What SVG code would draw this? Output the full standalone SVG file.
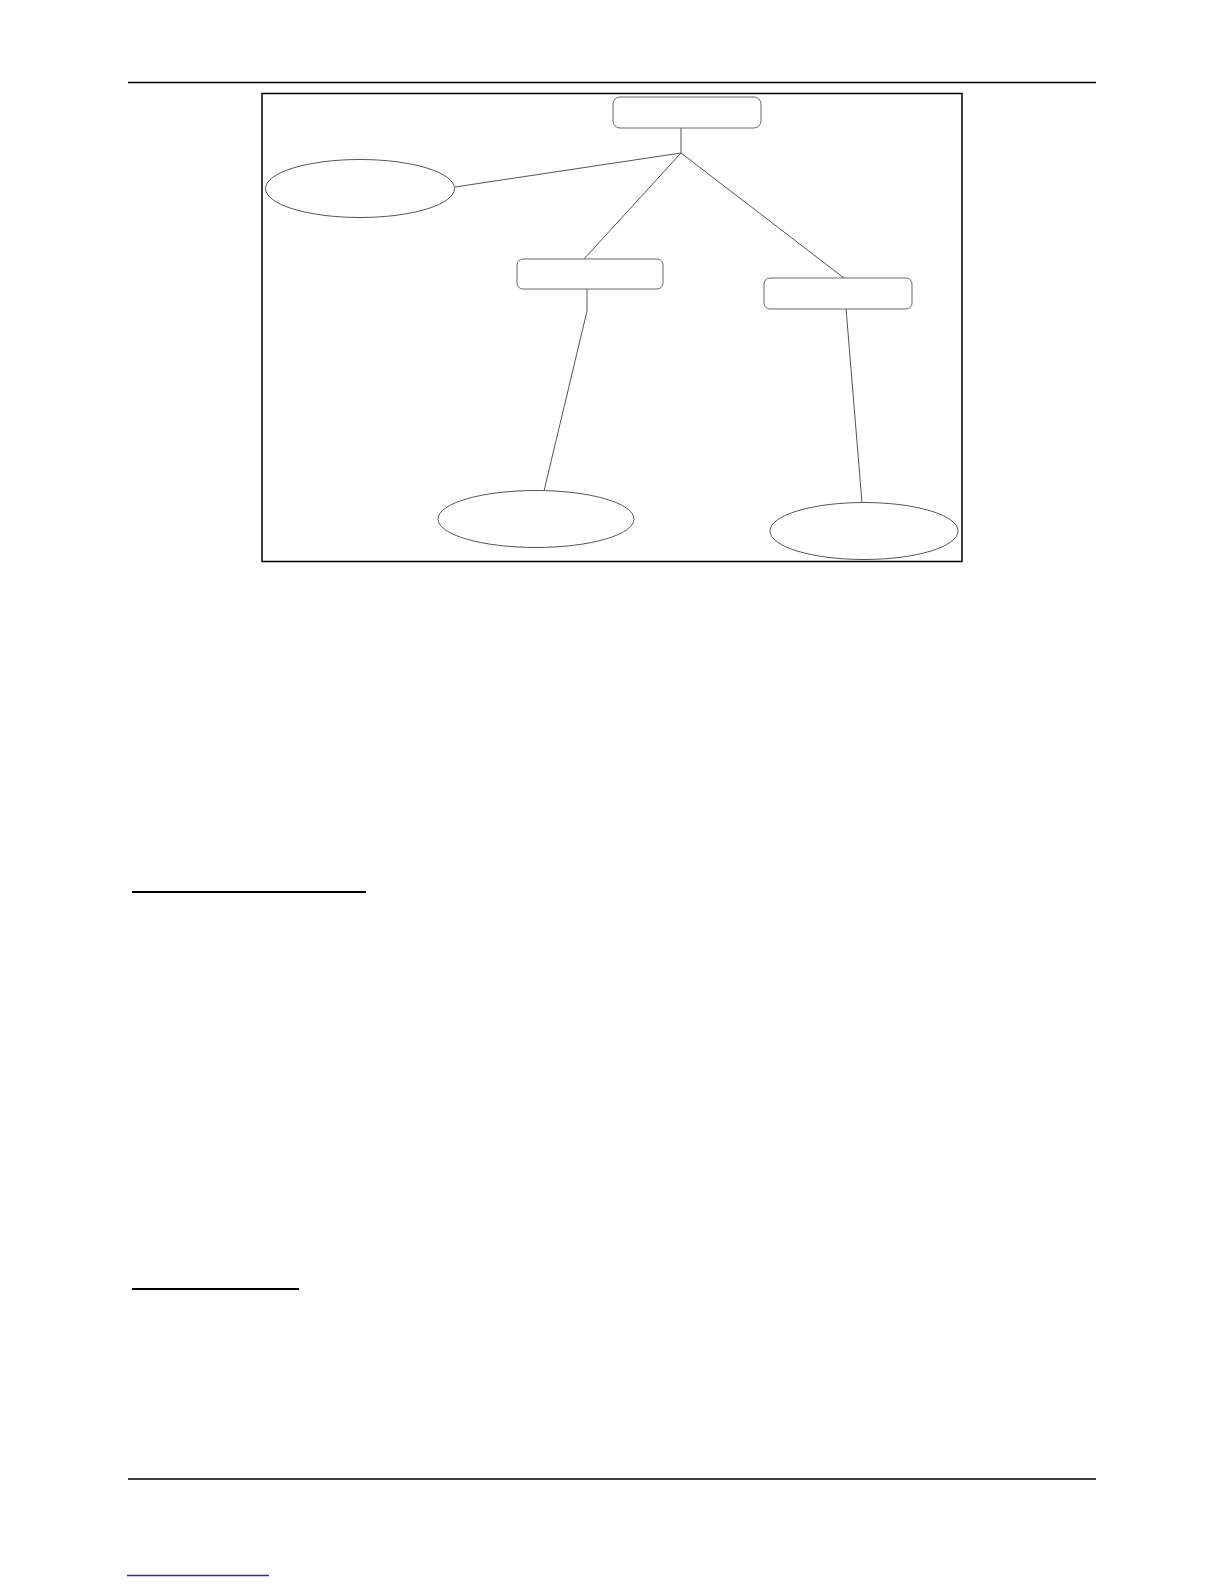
<svg xmlns="http://www.w3.org/2000/svg" width="1224" height="1584" viewBox="0 0 1224 1584">
<style>
.rule{stroke:#000;stroke-width:1.3;fill:none}
.ul{stroke:#000;stroke-width:2;fill:none}
.frame{stroke:#000;stroke-width:1.5;fill:none}
.box{fill:#fff;stroke:#6a6a6a;stroke-width:1}
.ell{fill:#fff;stroke:#555;stroke-width:1}
.conn{stroke:#555;stroke-width:1;fill:none}
</style>
<rect width="1224" height="1584" fill="#fff"/>
<g id="page">
<line class="rule" x1="128" y1="82.5" x2="1096" y2="82.5"/>
<line class="rule" x1="128" y1="1479" x2="1096" y2="1479"/>
<line class="ul" x1="132" y1="892" x2="366" y2="892"/>
<line class="ul" x1="132" y1="1289" x2="299" y2="1289"/>
<line x1="127" y1="1575.5" x2="269" y2="1575.5" stroke="#2a2aa6" stroke-width="1.3"/>
<rect class="frame" x="262" y="93.5" width="700" height="468"/>
</g>
<g id="connectors">
<polyline class="conn" points="681,128 681,153"/>
<line class="conn" x1="681" y1="153" x2="455" y2="187"/>
<line class="conn" x1="681" y1="153" x2="584" y2="259"/>
<line class="conn" x1="681" y1="153" x2="844" y2="278"/>
<polyline class="conn" points="587,289 587,311 544,491"/>
<line class="conn" x1="846" y1="308" x2="862" y2="503"/>
</g>
<g id="node-top"><rect class="box" x="613" y="97" width="148" height="31" rx="7"/></g>
<g id="node-left-ellipse"><ellipse class="ell" cx="360" cy="188.5" rx="94.5" ry="29"/></g>
<g id="node-mid"><rect class="box" x="517" y="259" width="146" height="30" rx="6"/></g>
<g id="node-right"><rect class="box" x="764" y="278" width="148" height="31" rx="6"/></g>
<g id="node-bottom-left"><ellipse class="ell" cx="536" cy="519" rx="98" ry="28.5"/></g>
<g id="node-bottom-right"><ellipse class="ell" cx="864" cy="531" rx="94" ry="28.5"/></g>
</svg>
